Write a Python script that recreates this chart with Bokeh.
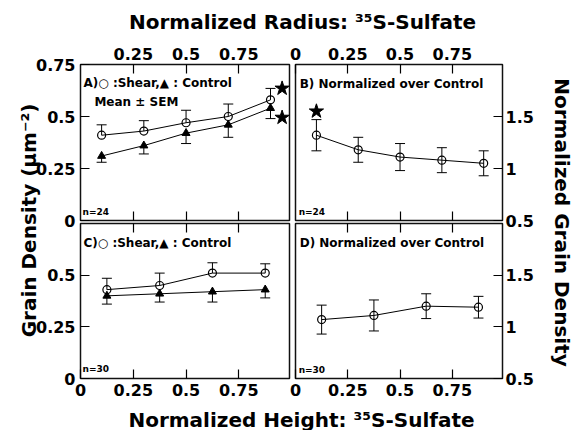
import math
from bokeh.plotting import figure
from bokeh.models import (ColumnDataSource, Whisker, TeeHead, LinearAxis, FixedTicker,
                          Range1d, Label)
from bokeh.embed import file_html
from bokeh.resources import INLINE

# ---------------- data ----------------
radius_x = [0.1, 0.3, 0.5, 0.7, 0.9]
a_shear = [0.41, 0.43, 0.47, 0.50, 0.58]
a_shear_sem = [0.05, 0.05, 0.06, 0.06, 0.055]
a_control = [0.31, 0.36, 0.42, 0.46, 0.54]
a_control_sem = [0.03, 0.04, 0.05, 0.06, 0.05]
a_star_x = [0.955, 0.955]
a_star_y = [0.635, 0.495]

b_ratio = [1.32, 1.18, 1.11, 1.08, 1.05]
b_ratio_sem = [0.15, 0.12, 0.13, 0.12, 0.12]
b_star_x = [0.1]
b_star_y = [1.55]

height_x = [0.125, 0.375, 0.625, 0.875]
c_shear = [0.43, 0.45, 0.51, 0.51]
c_shear_sem = [0.055, 0.06, 0.05, 0.045]
c_control = [0.40, 0.41, 0.42, 0.43]
c_control_sem = [0.04, 0.04, 0.05, 0.04]

d_ratio = [1.07, 1.11, 1.20, 1.19]
d_ratio_sem = [0.14, 0.15, 0.12, 0.105]

x_ticks = [0, 0.25, 0.5, 0.75]
x_tick_labels = ["0", "0.25", "0.5", "0.75"]
density_ticks = [0, 0.25, 0.5, 0.75]
density_tick_labels = ["0", "0.25", "0.5", "0.75"]
ratio_ticks = [0.5, 1, 1.5]
ratio_tick_labels = ["0.5", "1", "1.5"]

X_SPAN = (0, 0.99)
DENSITY_SPAN = (0, 0.75)
RATIO_SPAN = (0.5, 2.0)

# ---------------- layout (canvas pixels) ----------------
W, H = 574, 430
FRAME_X = (0, W)
FRAME_Y = (H, 0)                   # bottom, top
COL_LEFT = (80, 289)
COL_RIGHT = (295, 502)
ROW_TOP = (220, 64)                # bottom, top
ROW_BOT = (378, 223)
FONT = "DejaVu Sans"


def span_range(v0, v1, p0, p1, f0, f1):
    k = (v1 - v0) / (p1 - p0)
    return Range1d(v0 + (f0 - p0) * k, v0 + (f1 - p0) * k)


p = figure(width=W, height=H,
           x_range=Range1d(*FRAME_X), y_range=Range1d(*FRAME_Y),
           x_axis_location=None, y_axis_location=None,
           toolbar_location=None, output_backend="svg",
           min_border_left=0, min_border_right=0,
           min_border_top=0, min_border_bottom=0)
p.outline_line_color = None
p.background_fill_color = "white"
p.border_fill_color = "white"
p.grid.visible = False

p.extra_x_ranges = {
    "xL": span_range(X_SPAN[0], X_SPAN[1], COL_LEFT[0], COL_LEFT[1], *FRAME_X),
    "xR": span_range(X_SPAN[0], X_SPAN[1], COL_RIGHT[0], COL_RIGHT[1], *FRAME_X),
}
p.extra_y_ranges = {
    "yA": span_range(DENSITY_SPAN[0], DENSITY_SPAN[1], ROW_TOP[0], ROW_TOP[1], *FRAME_Y),
    "yB": span_range(RATIO_SPAN[0], RATIO_SPAN[1], ROW_TOP[0], ROW_TOP[1], *FRAME_Y),
    "yC": span_range(DENSITY_SPAN[0], DENSITY_SPAN[1], ROW_BOT[0], ROW_BOT[1], *FRAME_Y),
    "yD": span_range(RATIO_SPAN[0], RATIO_SPAN[1], ROW_BOT[0], ROW_BOT[1], *FRAME_Y),
}


def axis(side, xr, yr, loc, ticks, labels=None, standoff=5):
    ax = LinearAxis(ticker=FixedTicker(ticks=ticks), x_range_name=xr, y_range_name=yr,
                    fixed_location=loc)
    ax.axis_line_color = None
    ax.major_tick_in = 9
    ax.major_tick_out = 0
    ax.major_tick_line_color = "black"
    ax.major_tick_line_width = 1.2
    ax.minor_tick_line_color = None
    ax.major_label_text_font = FONT
    ax.major_label_text_font_style = "bold"
    ax.major_label_text_font_size = "16px"
    ax.major_label_standoff = standoff
    if labels is None:
        ax.major_label_text_color = None
        ax.major_label_overrides = {t: " " for t in ticks}
    else:
        ax.major_label_text_color = "black"
        ax.major_label_overrides = dict(zip(ticks, labels))
    p.add_layout(ax, side)


def frame(xr, yr, xspan, yspan):
    p.quad(left=[xspan[0]], right=[xspan[1]], bottom=[yspan[0]], top=[yspan[1]],
           x_range_name=xr, y_range_name=yr,
           fill_color=None, line_color="#111111", line_width=1.5)


def errbar(xr, yr, x, y, sem, up=True, down=True):
    hi = [v + e for v, e in zip(y, sem)] if up else list(y)
    lo = [v - e for v, e in zip(y, sem)] if down else list(y)
    src = ColumnDataSource(dict(x=x, hi=hi, lo=lo))
    w = Whisker(source=src, base="x", upper="hi", lower="lo",
                x_range_name=xr, y_range_name=yr,
                line_color="black", line_width=1,
                upper_head=TeeHead(size=10, line_color="black", line_width=1) if up else None,
                lower_head=TeeHead(size=10, line_color="black", line_width=1) if down else None)
    p.add_layout(w)


def series(xr, yr, x, y, marker):
    p.line(x, y, line_color="black", line_width=1, x_range_name=xr, y_range_name=yr)
    if marker == "circle":
        p.scatter(x, y, marker="circle", size=8, fill_color=None,
                  line_color="black", line_width=1.2, x_range_name=xr, y_range_name=yr)
    else:
        p.scatter(x, y, marker="triangle", size=8, fill_color="black",
                  line_color="black", line_width=1, x_range_name=xr, y_range_name=yr)


def stars(xr, yr, x, y):
    p.scatter(x, y, marker="star", size=15, fill_color="black", line_color="black",
              x_range_name=xr, y_range_name=yr)


def label(xr, yr, x, y, text, size="12px"):
    p.add_layout(Label(x=x, y=y, text=text, x_range_name=xr, y_range_name=yr,
                       text_font=FONT, text_font_style="bold",
                       text_font_size=size, text_baseline="middle", text_align="left",
                       text_color="black"))


# ---------------- panel A ----------------
frame("xL", "yA", X_SPAN, DENSITY_SPAN)
axis("left", "xL", "yA", X_SPAN[0], density_ticks, density_tick_labels)
axis("above", "xL", "yA", DENSITY_SPAN[1], x_ticks[1:], x_tick_labels[1:])
axis("below", "xL", "yA", DENSITY_SPAN[0], x_ticks[1:])
errbar("xL", "yA", radius_x, a_shear, a_shear_sem, up=True, down=False)
errbar("xL", "yA", radius_x, a_control, a_control_sem, up=False, down=True)
series("xL", "yA", radius_x, a_shear, "circle")
series("xL", "yA", radius_x, a_control, "triangle")
stars("xL", "yA", a_star_x, a_star_y)
label("xL", "yA", 0.014, 0.659, "A)\u25cb :Shear,\u25b2 : Control")
label("xL", "yA", 0.066, 0.572, "Mean \u00b1 SEM")
label("xL", "yA", 0.01, 0.04, "n=24", "9px")

# ---------------- panel B ----------------
frame("xR", "yB", X_SPAN, RATIO_SPAN)
axis("right", "xR", "yB", X_SPAN[1], ratio_ticks, ratio_tick_labels, standoff=3)
axis("above", "xR", "yB", RATIO_SPAN[1], x_ticks, x_tick_labels)
axis("below", "xR", "yB", RATIO_SPAN[0], x_ticks[1:])
errbar("xR", "yB", radius_x, b_ratio, b_ratio_sem)
series("xR", "yB", radius_x, b_ratio, "circle")
stars("xR", "yB", b_star_x, b_star_y)
label("xR", "yB", 0.02, 1.808, "B) Normalized over Control")
label("xR", "yB", 0.015, 0.577, "n=24", "9px")

# ---------------- panel C ----------------
frame("xL", "yC", X_SPAN, DENSITY_SPAN)
axis("left", "xL", "yC", X_SPAN[0], density_ticks[:3], density_tick_labels[:3])
axis("above", "xL", "yC", DENSITY_SPAN[1], x_ticks[1:])
axis("below", "xL", "yC", DENSITY_SPAN[0], x_ticks, x_tick_labels)
errbar("xL", "yC", height_x, c_shear, c_shear_sem, up=True, down=False)
errbar("xL", "yC", height_x, c_control, c_control_sem, up=False, down=True)
series("xL", "yC", height_x, c_shear, "circle")
series("xL", "yC", height_x, c_control, "triangle")
label("xL", "yC", 0.014, 0.658, "C)\u25cb :Shear,\u25b2 : Control")
label("xL", "yC", 0.01, 0.044, "n=30", "9px")

# ---------------- panel D ----------------
frame("xR", "yD", X_SPAN, RATIO_SPAN)
axis("right", "xR", "yD", X_SPAN[1], ratio_ticks, ratio_tick_labels, standoff=3)
axis("above", "xR", "yD", RATIO_SPAN[1], x_ticks[1:])
axis("below", "xR", "yD", RATIO_SPAN[0], x_ticks, x_tick_labels)
errbar("xR", "yD", height_x, d_ratio, d_ratio_sem)
series("xR", "yD", height_x, d_ratio, "circle")
label("xR", "yD", 0.02, 1.807, "D) Normalized over Control")
label("xR", "yD", 0.015, 0.587, "n=30", "9px")


# ---------------- overall titles (default ranges are canvas pixels) ----------------
def title(x, y, text, angle=0.0):
    p.add_layout(Label(x=x, y=y, text=text, angle=angle, text_font=FONT,
                       text_font_style="bold", text_font_size="20px",
                       text_align="center", text_baseline="middle", text_color="black"))


title(302, 21, "Normalized Radius: \u00b3\u2075S-Sulfate")
title(301, 419, "Normalized Height: \u00b3\u2075S-Sulfate")
title(28, 220, "Grain Density (\u03bcm\u207b\u00b2)", math.pi / 2)
title(561, 222, "Normalized Grain Density", -math.pi / 2)

open("out.html", "w").write(file_html(p, INLINE))
